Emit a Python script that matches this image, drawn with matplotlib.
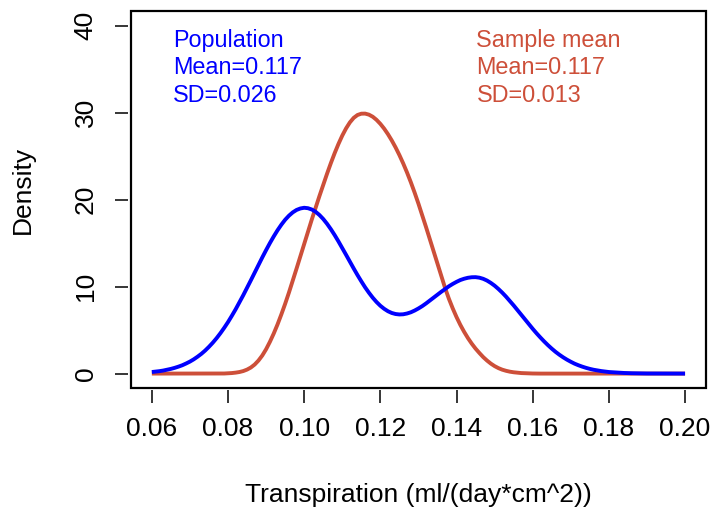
import matplotlib
matplotlib.use("Agg")
import matplotlib.pyplot as plt
from matplotlib.patches import Rectangle

plt.rcParams['font.family'] = ['Liberation Sans', 'DejaVu Sans']

# x grid (transpiration, ml/(day*cm^2)), 0.060 ... 0.200 in steps of 0.001
x_vals = [round(0.060 + 0.001 * i, 3) for i in range(141)]

# population density (blue)
population = [
    0.18, 0.23, 0.28, 0.35, 0.44, 0.54, 0.66, 0.80, 0.96, 1.16,
    1.38, 1.64, 1.94, 2.27, 2.65, 3.08, 3.55, 4.07, 4.64, 5.26,
    5.92, 6.64, 7.39, 8.19, 9.01, 9.86, 10.73, 11.61, 12.49, 13.36,
    14.20, 15.01, 15.77, 16.48, 17.12, 17.69, 18.16, 18.54, 18.82, 18.99,
    19.07, 19.02, 18.87, 18.61, 18.24, 17.78, 17.23, 16.61, 15.93, 15.20,
    14.44, 13.66, 12.87, 12.09, 11.33, 10.61, 9.92, 9.30, 8.73, 8.23,
    7.80, 7.45, 7.17, 6.97, 6.85, 6.80, 6.82, 6.91, 7.05, 7.25,
    7.49, 7.76, 8.07, 8.40, 8.74, 9.08, 9.41, 9.73, 10.04, 10.31,
    10.55, 10.76, 10.91, 11.02, 11.08, 11.09, 11.03, 10.90, 10.70, 10.43,
    10.11, 9.73, 9.31, 8.85, 8.35, 7.84, 7.30, 6.76, 6.21, 5.68,
    5.15, 4.64, 4.16, 3.70, 3.27, 2.87, 2.50, 2.17, 1.87, 1.60,
    1.36, 1.14, 0.96, 0.80, 0.66, 0.54, 0.44, 0.36, 0.29, 0.23,
    0.18, 0.15, 0.11, 0.09, 0.07, 0.05, 0.04, 0.03, 0.02, 0.02,
    0.01, 0.01, 0.01, 0.01, 0.00, 0.00, 0.00, 0.00, 0.00, 0.00,
    0.00,
]

# sampling distribution of the mean (red)
sample_mean = [
    0.00, 0.00, 0.00, 0.00, 0.00, 0.00, 0.00, 0.00, 0.00, 0.00,
    0.00, 0.00, 0.00, 0.00, 0.00, 0.00, 0.00, 0.00, 0.00,
    # 0.079 ... 0.115
    0.01, 0.03, 0.06, 0.11, 0.18, 0.29, 0.46, 0.70, 1.04, 1.50,
    2.08, 2.80, 3.65, 4.60, 5.65, 6.80, 8.02, 9.32, 10.68, 12.08,
    13.50, 14.92, 16.33, 17.72, 19.08, 20.41, 21.71, 22.98, 24.20, 25.35,
    26.41, 27.37, 28.20, 28.89, 29.41, 29.74, 29.89,
    # 0.116 ... 0.161
    29.90, 29.78, 29.54, 29.18, 28.72, 28.17, 27.53, 26.81, 26.01, 25.13,
    24.17, 23.13, 22.01, 20.81, 19.54, 18.21, 16.84, 15.44, 14.02, 12.60,
    11.20, 9.84, 8.60, 7.50, 6.50, 5.60, 4.80, 4.08, 3.44, 2.87,
    2.37, 1.90, 1.50, 1.15, 0.86, 0.63, 0.45, 0.32, 0.22, 0.15,
    0.10, 0.06, 0.04, 0.02, 0.01, 0.00,
    # 0.162 ... 0.200
    0.00, 0.00, 0.00, 0.00, 0.00, 0.00, 0.00, 0.00, 0.00, 0.00,
    0.00, 0.00, 0.00, 0.00, 0.00, 0.00, 0.00, 0.00, 0.00, 0.00,
    0.00, 0.00, 0.00, 0.00, 0.00, 0.00, 0.00, 0.00, 0.00, 0.00,
    0.00, 0.00, 0.00, 0.00, 0.00, 0.00, 0.00, 0.00, 0.00,
]

x_ticks = [0.06, 0.08, 0.10, 0.12, 0.14, 0.16, 0.18, 0.20]
x_ticklabels = ["0.06", "0.08", "0.10", "0.12", "0.14", "0.16", "0.18", "0.20"]
y_ticks = [0, 10, 20, 30, 40]
y_ticklabels = ["0", "10", "20", "30", "40"]

pop_text = ["Population", "Mean=0.117", "SD=0.026"]
samp_text = ["Sample mean", "Mean=0.117", "SD=0.013"]

BLUE = "#0000FF"
RED = "#CD4F39"

W, H = 715, 514
fig = plt.figure(figsize=(W / 100, H / 100), dpi=100)
left, right, top, bottom = 130.5, 706, 11, 387.5
ax = fig.add_axes([left / W, 1 - bottom / H, (right - left) / W, (bottom - top) / H])

ax.plot(x_vals, sample_mean, color=RED, lw=2.8, solid_joinstyle='round',
        solid_capstyle='butt')
ax.plot(x_vals, population, color=BLUE, lw=2.8, solid_joinstyle='round',
        solid_capstyle='butt')

ax.set_xlim(0.0544, 0.2055)
ax.set_ylim(-1.6, 41.7)

for s in ax.spines.values():
    s.set_visible(False)
ax.spines['bottom'].set_position(('outward', 2))
ax.spines['left'].set_position(('outward', 2))
ax.add_patch(Rectangle((0, 0), 1, 1, transform=ax.transAxes, fill=False,
                       lw=1.6, edgecolor='black', clip_on=False, zorder=5))

ax.set_xticks(x_ticks)
ax.set_xticklabels(x_ticklabels)
ax.set_yticks(y_ticks)
ax.set_yticklabels(y_ticklabels, rotation=90, va='center')
ax.tick_params(axis='both', direction='out', length=9.5, width=1.1,
               labelsize=19, colors='black')
ax.tick_params(axis='x', pad=10)
ax.tick_params(axis='y', pad=12)

fig.text(418 / W, 1 - 495 / H, "Transpiration (ml/(day*cm^2))", fontsize=19,
         ha='center', va='center')
fig.text(23 / W, 1 - 190 / H, "Density", fontsize=19, rotation=90,
         ha='center', va='center')

for i, (a, b) in enumerate(zip(pop_text, samp_text)):
    yb = 47.3 + i * 27.2
    fig.text(173 / W, 1 - yb / H, a, fontsize=16.8, color=BLUE, ha='left', va='baseline')
    fig.text(476.5 / W, 1 - yb / H, b, fontsize=16.8, color=RED, ha='left', va='baseline')

fig.savefig("out.png", dpi=100)
